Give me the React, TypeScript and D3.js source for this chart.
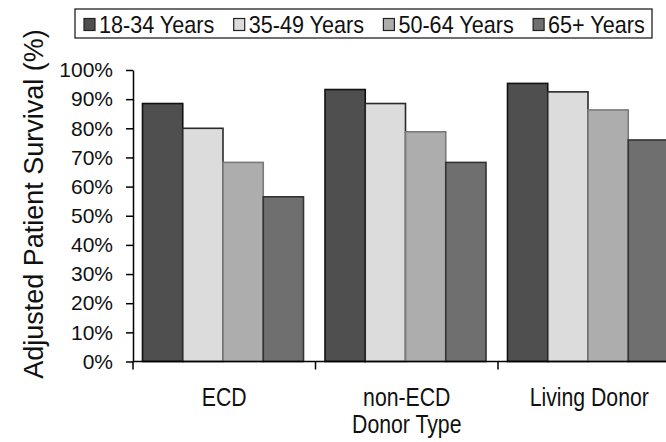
import React, { useEffect, useRef } from 'react';
import * as d3 from 'd3';

const donorTypes = ['ECD', 'non-ECD', 'Living Donor'];
const ageGroups = ['18-34 Years', '35-49 Years', '50-64 Years', '65+ Years'];
const age18to34 = [88.5, 93.3, 95.4];
const age35to49 = [80, 88.5, 92.5];
const age50to64 = [68.3, 78.8, 86.3];
const age65plus = [56.5, 68.3, 76];
const yTicks = [0, 10, 20, 30, 40, 50, 60, 70, 80, 90, 100];

const seriesValues = [age18to34, age35to49, age50to64, age65plus];
const fills = ['#4f4f4f', '#dcdcdc', '#adadad', '#6f6f6f'];
const strokes = ['#111111', '#2a2a2a', '#7a7a7a', '#333333'];

const W = 666;
const H = 442;
const FONT = '"Liberation Sans", Arial, Helvetica, sans-serif';

const App: React.FC = () => {
    const svgRef = useRef<SVGSVGElement>(null);

    useEffect(() => {
        if (!svgRef.current) return;
        const svg = d3.select(svgRef.current);
        svg.selectAll('*').remove();

        const x = d3.scaleBand<string>().domain(donorTypes).range([133, 680.5]).paddingInner(0).paddingOuter(0);
        const bw = x.bandwidth();
        const inner = d3.scaleBand<number>().domain(d3.range(ageGroups.length)).range([9.5, bw - 12]);
        const y = d3.scaleLinear().domain([0, 100]).range([361.5, 70]);

        // bars
        const groups = svg.append('g').selectAll('g')
            .data(donorTypes)
            .join('g')
            .attr('transform', d => `translate(${x(d)},0)`);

        groups.selectAll('rect')
            .data((d, ci) => seriesValues.map((vals, si) => ({ si, v: vals[ci] })))
            .join('rect')
            .attr('x', d => inner(d.si)!)
            .attr('y', d => y(d.v))
            .attr('width', inner.bandwidth())
            .attr('height', d => y(0) - y(d.v))
            .attr('fill', d => fills[d.si])
            .attr('stroke', d => strokes[d.si])
            .attr('stroke-width', 1.6);

        // y axis
        const yAxis = svg.append('g')
            .attr('transform', 'translate(133,0)')
            .call(d3.axisLeft(y).tickValues(yTicks).tickFormat(d => d + '%').tickSizeInner(7).tickSizeOuter(0).tickPadding(13));
        yAxis.select('.domain').attr('stroke', '#000').attr('stroke-width', 1.5);
        yAxis.selectAll('.tick line').attr('stroke', '#000').attr('stroke-width', 1.5);
        yAxis.selectAll('.tick text')
            .attr('fill', '#111')
            .style('font-family', FONT)
            .style('font-size', '21px');

        // x axis: line plus ticks at the band edges
        const xAxis = svg.append('g');
        xAxis.append('line')
            .attr('x1', x.range()[0]).attr('x2', x.range()[1])
            .attr('y1', y(0)).attr('y2', y(0))
            .attr('stroke', '#000').attr('stroke-width', 1.5);
        const bounds = donorTypes.map(d => x(d)!).concat([x.range()[1]]);
        xAxis.selectAll('line.tick')
            .data(bounds)
            .join('line')
            .attr('class', 'tick')
            .attr('x1', d => d).attr('x2', d => d)
            .attr('y1', y(0)).attr('y2', y(0) + 8)
            .attr('stroke', '#000').attr('stroke-width', 1.5);
        xAxis.selectAll('text')
            .data(donorTypes)
            .join('text')
            .attr('transform', d => `translate(${x(d)! + bw / 2},406) scale(0.85,1)`)
            .attr('text-anchor', 'middle')
            .attr('fill', '#111')
            .style('font-family', FONT)
            .style('font-size', '25px')
            .text(d => d);

        // axis titles
        svg.append('text')
            .attr('transform', `translate(${(x.range()[0] + x.range()[1]) / 2},433) scale(0.85,1)`)
            .attr('text-anchor', 'middle')
            .attr('fill', '#111')
            .style('font-family', FONT)
            .style('font-size', '25px')
            .text('Donor Type');

        svg.append('text')
            .attr('transform', 'translate(43,204) rotate(-90)')
            .attr('text-anchor', 'middle')
            .attr('fill', '#111')
            .style('font-family', FONT)
            .style('font-size', '27px')
            .text('Adjusted Patient Survival (%)');

        // legend
        const legend = svg.append('g');
        legend.append('rect')
            .attr('x', 75).attr('y', 9)
            .attr('width', 577).attr('height', 29)
            .attr('fill', '#fff')
            .attr('stroke', '#222').attr('stroke-width', 1.3);
        const items = legend.selectAll('g.item')
            .data(ageGroups)
            .join('g')
            .attr('class', 'item')
            .attr('transform', (d, i) => `translate(${84 + i * 149.7},0)`);
        items.append('rect')
            .attr('x', 0).attr('y', 18.5)
            .attr('width', 11).attr('height', 12)
            .attr('fill', (d, i) => fills[i])
            .attr('stroke', '#222').attr('stroke-width', 1.2);
        items.append('text')
            .attr('transform', 'translate(15,33) scale(0.9,1)')
            .attr('fill', '#111')
            .style('font-family', FONT)
            .style('font-size', '24px')
            .text(d => d);
    }, []);

    return (
        <div>
            <style>{`body { margin: 0; }`}</style>
            <svg ref={svgRef} width={W} height={H} style={{ display: 'block', background: '#fff' }}></svg>
        </div>
    );
};

export default App;
